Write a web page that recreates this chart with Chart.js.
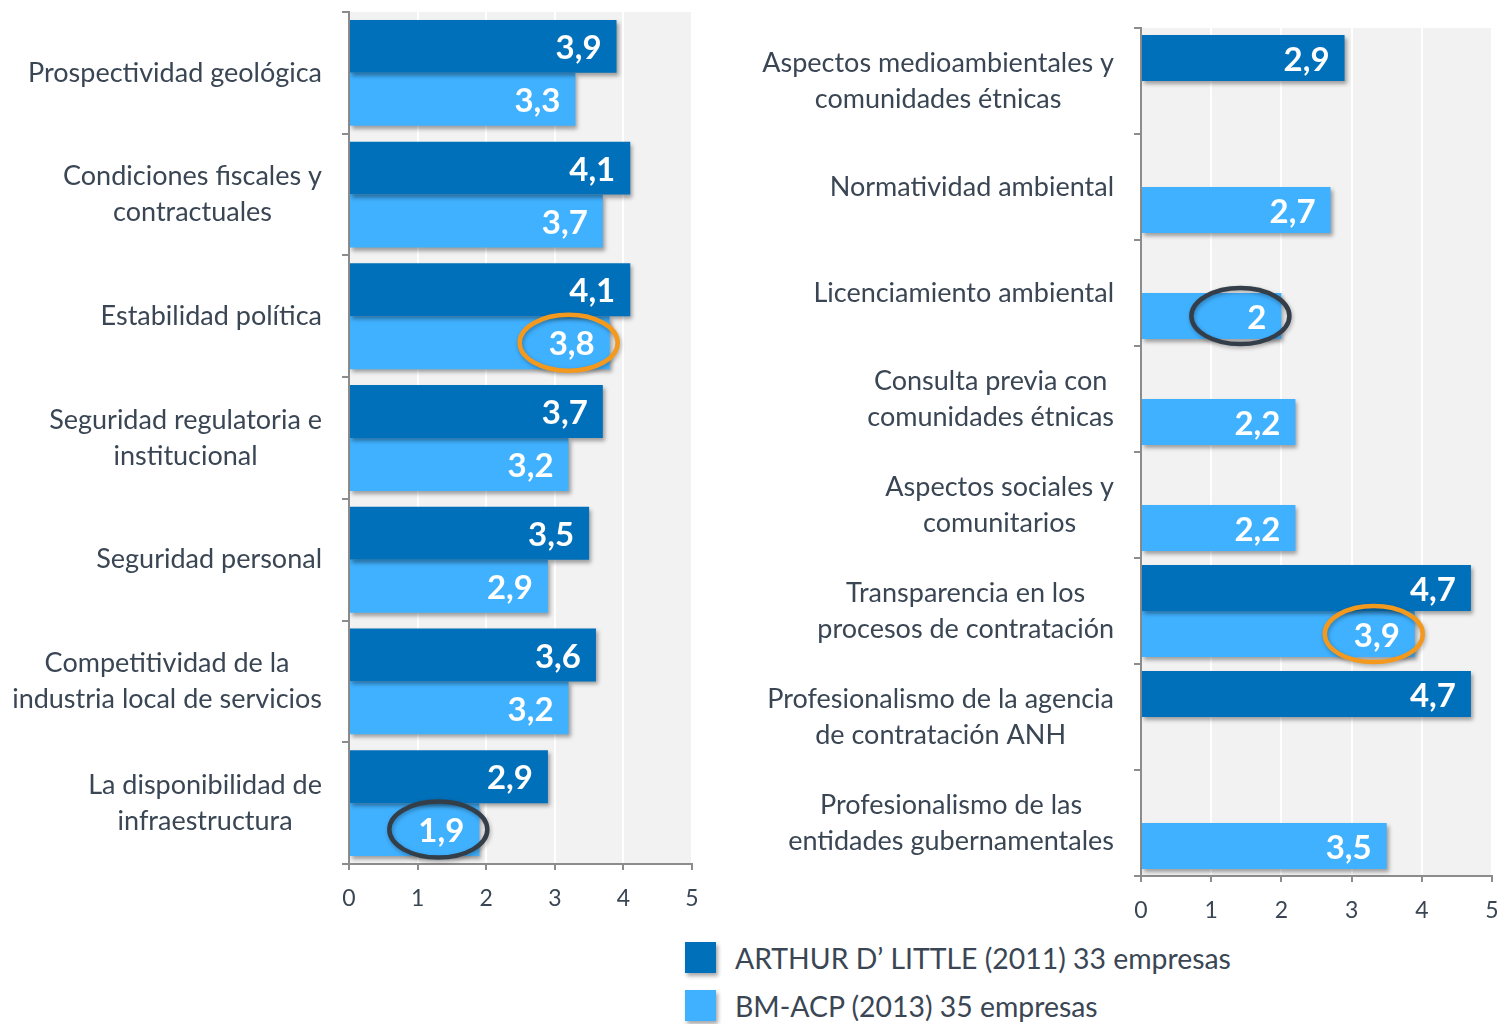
<!DOCTYPE html>
<html>
<head>
<meta charset="utf-8">
<script src="https://cdn.jsdelivr.net/npm/chart.js@4.4.1/dist/chart.umd.min.js"></script>
<style>
  html, body { margin: 0; padding: 0; background: #ffffff; }
  body { width: 1500px; height: 1024px; overflow: hidden; position: relative; font-family: Lato, "Open Sans", sans-serif; }
  #leftCanvas { position: absolute; left: 0; top: 0; }
  #rightCanvas { position: absolute; left: 700px; top: 0; }
  .lg-row { position: absolute; left: 685px; height: 31px; display: flex; align-items: center; }
  .lg-box { width: 31px; height: 31px; box-shadow: 2px 3px 4px rgba(0,0,0,0.35); margin-right: 19px; flex: none; }
  .lg-text { font-family: Lato, sans-serif; font-size: 28.4px; color: #3a4654; white-space: nowrap; }
</style>
</head>
<body>
<canvas id="leftCanvas" width="700" height="930"></canvas>
<canvas id="rightCanvas" width="800" height="930"></canvas>
<div id="legend"></div>
<script>
// ---------------- DATA ----------------
const leftCategories = [
  ["Prospectividad geológica"],
  ["Condiciones fiscales y", "contractuales"],
  ["Estabilidad política"],
  ["Seguridad regulatoria e", "institucional"],
  ["Seguridad personal"],
  ["Competitividad de la", "industria local de servicios"],
  ["La disponibilidad de", "infraestructura"]
];
const leftArthur = [3.9, 4.1, 4.1, 3.7, 3.5, 3.6, 2.9];
const leftBM     = [3.3, 3.7, 3.8, 3.2, 2.9, 3.2, 1.9];

const rightCategories = [
  ["Aspectos medioambientales y", "comunidades étnicas"],
  ["Normatividad ambiental"],
  ["Licenciamiento ambiental"],
  ["Consulta previa con", "comunidades étnicas"],
  ["Aspectos sociales y", "comunitarios"],
  ["Transparencia en los", "procesos de contratación"],
  ["Profesionalismo de la agencia", "de contratación ANH"],
  ["Profesionalismo de las", "entidades gubernamentales"]
];
const rightArthur = [2.9, null, null, null, null, 4.7, 4.7, null];
const rightBM     = [null, 2.7, 2.0, 2.2, 2.2, 3.9, null, 3.5];

const xTickValues = [0, 1, 2, 3, 4, 5];
const seriesNames = ["ARTHUR D\u2019 LITTLE (2011) 33 empresas", "BM-ACP (2013) 35 empresas"];

// highlighted values (category index, dataset index)
const leftHighlights  = [[2, 1, "orange"], [6, 1, "dark"]];
const rightHighlights = [[2, 1, "dark"], [5, 1, "orange"]];

// ---------------- STYLE ----------------
const COLORS = ["#0070BA", "#40B1FF"];
const RING = { orange: "#F39A1E", dark: "#343E49" };
const TEXT = "#3a4654";
const AXIS = "#8c8c8c";

function fmt(v) { return String(v).replace('.', ','); }

const decorPlugin = {
  id: 'decor',
  beforeDraw(chart) {
    const a = chart.chartArea, ctx = chart.ctx;
    ctx.save();
    ctx.fillStyle = '#f2f2f2';
    ctx.fillRect(a.left, a.top, a.right - a.left, a.bottom - a.top);
    ctx.restore();
  },
  beforeDatasetsDraw(chart) {
    const ctx = chart.ctx;
    ctx.save();
    ctx.shadowColor = 'rgba(0,0,0,0.35)';
    ctx.shadowBlur = 4;
    ctx.shadowOffsetX = 2;
    ctx.shadowOffsetY = 3;
  },
  afterDatasetsDraw(chart, args, opts) {
    const ctx = chart.ctx;
    ctx.restore();
    // value labels
    ctx.save();
    ctx.font = 'bold 33px Lato, sans-serif';
    ctx.fillStyle = '#ffffff';
    ctx.textAlign = 'right';
    ctx.textBaseline = 'middle';
    chart.data.datasets.forEach((ds, di) => {
      const meta = chart.getDatasetMeta(di);
      meta.data.forEach((bar, i) => {
        const v = ds.data[i];
        if (v === null || v === undefined) return;
        ctx.fillText(fmt(v), bar.x - 15, bar.y + 2);
      });
    });
    ctx.restore();
    // highlight rings
    (opts.highlights || []).forEach(h => {
      const bar = chart.getDatasetMeta(h[1]).data[h[0]];
      if (!bar) return;
      ctx.save();
      ctx.shadowColor = 'rgba(0,0,0,0.3)';
      ctx.shadowBlur = 4;
      ctx.shadowOffsetX = 1;
      ctx.shadowOffsetY = 2;
      ctx.strokeStyle = RING[h[2]];
      ctx.lineWidth = 4.5;
      ctx.beginPath();
      ctx.ellipse(bar.x - 41, bar.y, 49, 28, 0, 0, Math.PI * 2);
      ctx.stroke();
      ctx.restore();
    });
  },
  afterDraw(chart) {
    const ctx = chart.ctx;
    const ys = chart.scales.y;
    const labels = chart.data.labels;
    ctx.save();
    ctx.font = '27px Lato, sans-serif';
    ctx.fillStyle = TEXT;
    ctx.textAlign = 'center';
    ctx.textBaseline = 'middle';
    const lh = 36;
    labels.forEach((lines, i) => {
      const yc = ys.getPixelForTick(i);
      const w = Math.max(...lines.map(l => ctx.measureText(l).width));
      const cx = ys.right - 27 - w / 2;
      const y0 = yc - (lines.length - 1) * lh / 2;
      lines.forEach((l, k) => ctx.fillText(l, cx, y0 + k * lh));
    });
    ctx.restore();
  }
};

function makeChart(canvasId, categories, arthur, bm, yWidth, pad, highlights) {
  return new Chart(document.getElementById(canvasId), {
    type: 'bar',
    data: {
      labels: categories,
      datasets: [
        { label: seriesNames[0], data: arthur, backgroundColor: COLORS[0], borderWidth: 0 },
        { label: seriesNames[1], data: bm, backgroundColor: COLORS[1], borderWidth: 0 }
      ]
    },
    options: {
      indexAxis: 'y',
      responsive: false,
      animation: false,
      events: [],
      layout: { padding: pad },
      datasets: { bar: { categoryPercentage: 0.87, barPercentage: 1.0 } },
      plugins: {
        legend: { display: false },
        tooltip: { enabled: false },
        decor: { highlights: highlights }
      },
      scales: {
        x: {
          min: xTickValues[0],
          max: xTickValues[xTickValues.length - 1],
          afterBuildTicks(scale) { scale.ticks = xTickValues.map(v => ({ value: v })); },
          afterFit(scale) { scale.height = 50; scale.paddingLeft = 0; scale.paddingRight = 0; },
          grid: { color: '#ffffff', lineWidth: 2, tickColor: AXIS, tickLength: 6, drawTicks: true },
          border: { display: true, color: AXIS, width: 2 },
          ticks: { color: TEXT, font: { family: 'Lato', size: 23 }, padding: 15, maxRotation: 0 }
        },
        y: {
          afterFit(scale) { scale.width = yWidth; },
          grid: { offset: true, drawOnChartArea: false, drawTicks: true, tickLength: 7, color: AXIS, lineWidth: 2 },
          border: { display: true, color: AXIS, width: 2 },
          ticks: { display: false }
        }
      }
    },
    plugins: [decorPlugin]
  });
}

makeChart('leftCanvas', leftCategories, leftArthur, leftBM, 349, { top: 12, right: 8, bottom: 16, left: 0 }, leftHighlights);
makeChart('rightCanvas', rightCategories, rightArthur, rightBM, 441, { top: 28, right: 8, bottom: 4, left: 0 }, rightHighlights);

// legend
const legend = document.getElementById('legend');
seriesNames.forEach((name, i) => {
  const row = document.createElement('div');
  row.className = 'lg-row';
  row.style.top = (942 + i * 48) + 'px';
  const box = document.createElement('div');
  box.className = 'lg-box';
  box.style.background = COLORS[i];
  const txt = document.createElement('span');
  txt.className = 'lg-text';
  txt.textContent = name;
  row.appendChild(box);
  row.appendChild(txt);
  legend.appendChild(row);
});
</script>
</body>
</html>
